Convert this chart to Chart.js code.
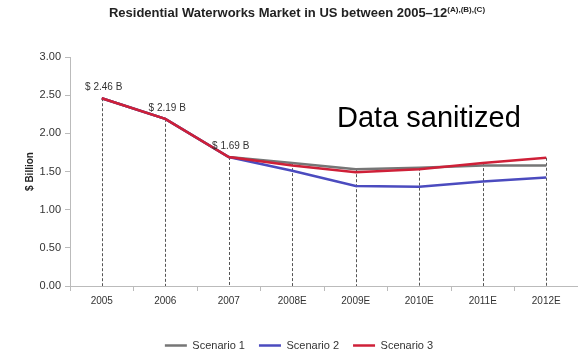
<!DOCTYPE html>
<html lang="en">
<head>
    <meta charset="UTF-8">
    <title>Residential Waterworks Market</title>
    <script src="https://cdn.jsdelivr.net/npm/chart.js"></script>
    <style>
        html, body { margin: 0; padding: 0; background: #fff; }
        .wrap { position: relative; width: 578px; height: 351px; font-family: "Liberation Sans", Arial, sans-serif; }
        .title { position: absolute; top: 5px; left: 8px; width: 578px; text-align: center; font-size: 13px; font-weight: bold; color: #222; }
        .title sup { font-size: 8px; font-weight: bold; }
        .note { position: absolute; left: 337px; top: 101px; font-size: 29px; color: #000; }
        canvas { position: absolute; left: 0; top: 0; }
    </style>
</head>
<body>
    <div class="wrap">
        <canvas id="marketChart" width="578" height="351"></canvas>
        <div class="title">Residential Waterworks Market in US between 2005&ndash;12<sup>(A),(B),(C)</sup></div>
        <div class="note">Data sanitized</div>
    </div>

    <script>
        const years = ['2005', '2006', '2007', '2008E', '2009E', '2010E', '2011E', '2012E'];
        const scenario1 = [2.46, 2.19, 1.69, 1.61, 1.53, 1.55, 1.58, 1.58];
        const scenario2 = [2.46, 2.19, 1.69, 1.51, 1.31, 1.30, 1.37, 1.42];
        const scenario3 = [2.46, 2.19, 1.69, 1.58, 1.49, 1.53, 1.61, 1.68];
        const pointLabels = ['$ 2.46 B', '$ 2.19 B', '$ 1.69 B', '', '', '', '', ''];
        const yTicks = [0, 0.5, 1, 1.5, 2, 2.5, 3];

        // dashed drop lines from the highest point of each year down to the axis
        const dropLines = {
            id: 'dropLines',
            beforeDatasetsDraw(chart) {
                const ctx = chart.ctx;
                const x = chart.scales.x, y = chart.scales.y;
                ctx.save();
                ctx.strokeStyle = '#555';
                ctx.lineWidth = 1;
                ctx.setLineDash([3, 2]);
                years.forEach((yr, i) => {
                    const top = Math.max(scenario1[i], scenario2[i], scenario3[i]);
                    const px = Math.round(x.getPixelForValue(i)) + 0.5;
                    ctx.beginPath();
                    ctx.moveTo(px, y.getPixelForValue(top));
                    ctx.lineTo(px, y.getPixelForValue(0));
                    ctx.stroke();
                });
                ctx.restore();
            }
        };

        // value labels above the first points
        const valueLabels = {
            id: 'valueLabels',
            afterDatasetsDraw(chart) {
                const ctx = chart.ctx;
                const x = chart.scales.x, y = chart.scales.y;
                ctx.save();
                ctx.font = '10px "Liberation Sans", Arial, sans-serif';
                ctx.fillStyle = '#333';
                ctx.textAlign = 'center';
                ctx.textBaseline = 'middle';
                pointLabels.forEach((txt, i) => {
                    if (!txt) return;
                    ctx.fillText(txt, x.getPixelForValue(i) + 2, y.getPixelForValue(scenario1[i]) - 11);
                });
                ctx.restore();
            }
        };

        const ctx = document.getElementById('marketChart').getContext('2d');
        new Chart(ctx, {
            type: 'line',
            data: {
                labels: years,
                datasets: [
                    { label: 'Scenario 1', data: scenario1, borderColor: '#767676', backgroundColor: '#767676', borderWidth: 2.5, pointRadius: 0, tension: 0, order: 2 },
                    { label: 'Scenario 2', data: scenario2, borderColor: '#4b4bbf', backgroundColor: '#4b4bbf', borderWidth: 2.5, pointRadius: 0, tension: 0, order: 1 },
                    { label: 'Scenario 3', data: scenario3, borderColor: '#cf2038', backgroundColor: '#cf2038', borderWidth: 2.5, pointRadius: 0, tension: 0, order: 0 }
                ]
            },
            options: {
                responsive: false,
                animation: false,
                layout: { padding: { top: 57, right: 0, left: 20, bottom: -10 } },
                plugins: {
                    tooltip: { enabled: false },
                    legend: {
                        position: 'bottom',
                        labels: {
                            usePointStyle: true,
                            pointStyle: 'line',
                            pointStyleWidth: 22,
                            padding: 14,
                            color: '#333',
                            font: { family: '"Liberation Sans", Arial, sans-serif', size: 11 },
                            sort: (a, b) => a.datasetIndex - b.datasetIndex
                        }
                    }
                },
                scales: {
                    x: {
                        offset: true,
                        grid: { display: true, drawOnChartArea: false, drawTicks: true, tickLength: 5, color: '#bbb', offset: true },
                        border: { color: '#bbb' },
                        ticks: { color: '#333', padding: 4, font: { family: '"Liberation Sans", Arial, sans-serif', size: 10 } },
                        afterFit(s) { s.height = 40; }
                    },
                    y: {
                        min: 0,
                        max: 3,
                        afterBuildTicks(s) { s.ticks = yTicks.map(v => ({ value: v })); },
                        grid: { display: true, drawOnChartArea: false, drawTicks: true, tickLength: 5, color: '#bbb' },
                        border: { color: '#bbb' },
                        ticks: {
                            color: '#333',
                            padding: 4,
                            font: { family: '"Liberation Sans", Arial, sans-serif', size: 11 },
                            callback: v => Number(v).toFixed(2)
                        },
                        title: {
                            display: true,
                            text: '$ Billion',
                            color: '#222',
                            font: { family: '"Liberation Sans", Arial, sans-serif', size: 10, weight: 'bold' }
                        },
                        afterFit(s) { s.width = 50; }
                    }
                }
            },
            plugins: [dropLines, valueLabels]
        });
    </script>
</body>
</html>
